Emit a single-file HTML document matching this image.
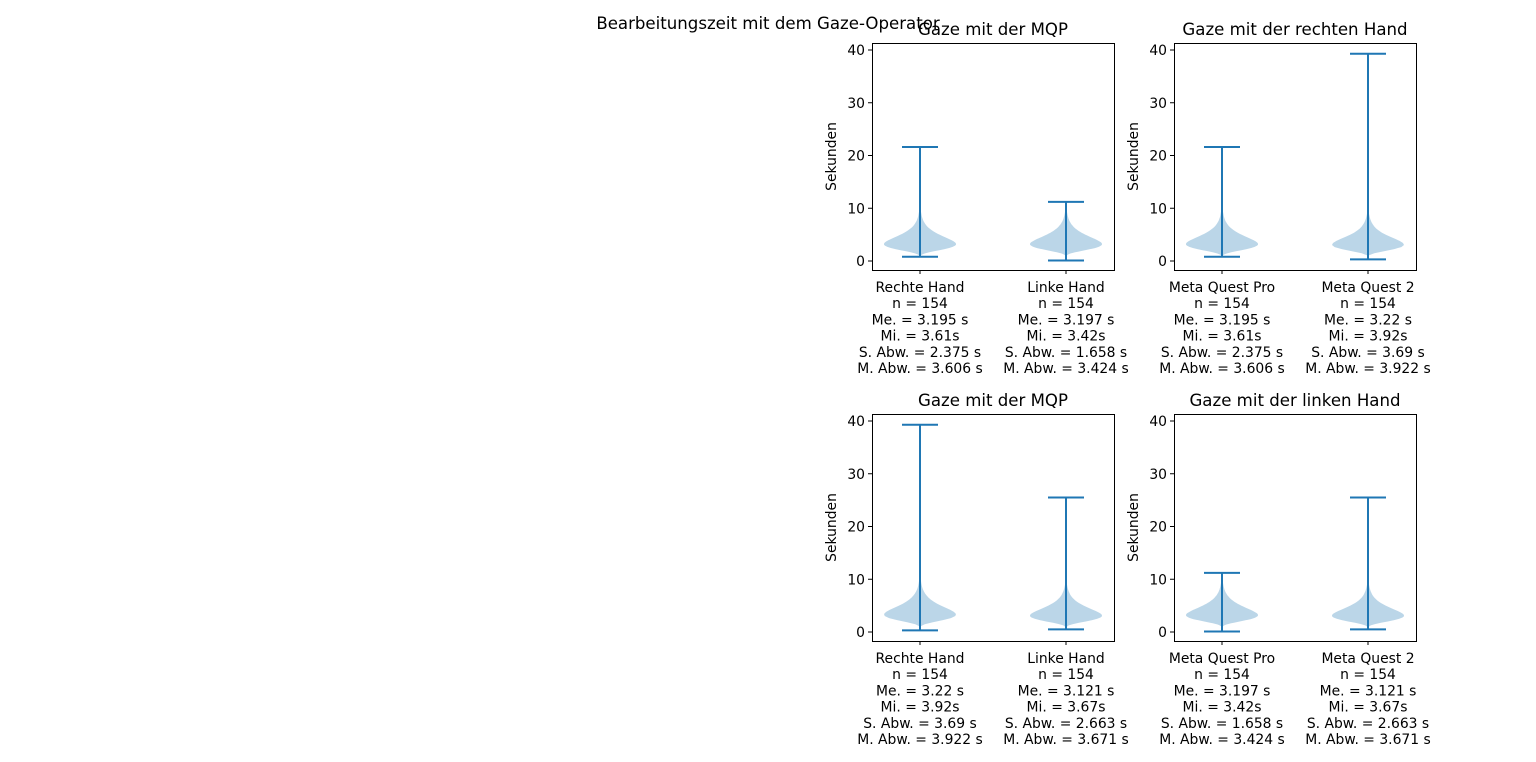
<!DOCTYPE html>
<html><head><meta charset="utf-8"><style>
body{margin:0;background:#fff;}
svg{display:block;font-family:"DejaVu Sans","Liberation Sans",sans-serif;}
</style></head><body>
<svg id="chart" width="1536" height="762">
<text x="768" y="29" text-anchor="middle" font-size="16.6">Bearbeitungszeit mit dem Gaze-Operator</text>
</svg>
<script>
const panelTitles=["Gaze mit der MQP","Gaze mit der rechten Hand","Gaze mit der MQP","Gaze mit der linken Hand"];
const categories=[["Rechte Hand","Linke Hand"],["Meta Quest Pro","Meta Quest 2"],["Rechte Hand","Linke Hand"],["Meta Quest Pro","Meta Quest 2"]];
const seriesMin=[[0.8,0.1],[0.8,0.3],[0.3,0.5],[0.1,0.5]];
const seriesMax=[[21.6,11.2],[21.6,39.3],[39.3,25.5],[11.2,25.5]];
const seriesMedian=[[3.195,3.197],[3.195,3.22],[3.22,3.121],[3.197,3.121]];
const seriesMode=[[3.2,3.2],[3.2,3.1],[3.3,3.1],[3.2,3.1]];
const statN=[[154,154],[154,154],[154,154],[154,154]];
const statMi=[["3.61","3.42"],["3.61","3.92"],["3.92","3.67"],["3.42","3.67"]];
const statSd=[["2.375","1.658"],["2.375","3.69"],["3.69","2.663"],["1.658","2.663"]];
const statMad=[["3.606","3.424"],["3.606","3.922"],["3.922","3.671"],["3.424","3.671"]];
const yTicks=[0,10,20,30,40];

const NS="http://www.w3.org/2000/svg";
const svg=document.getElementById('chart');
function mk(t,a,p){const e=document.createElementNS(NS,t);for(const k in a)e.setAttribute(k,a[k]);(p||svg).appendChild(e);return e;}
const boxes=[[872,43],[1174,43],[872,414],[1174,414]];
const W=242,H=227;
boxes.forEach((b,pi)=>{
  const [x0,y0]=b;
  const g=mk('g',{});
  
  
  const yS=v=>y0+218-v*(211/40);
  const xS=i=>x0+48+i*146;
  const t=mk('text',{x:x0+W/2,y:y0-8,'text-anchor':'middle','font-size':16.6},g);t.textContent=panelTitles[pi];
  
  yTicks.forEach(v=>{
    const y=yS(v);
    mk('line',{x1:x0-4,x2:x0,y1:y,y2:y,stroke:'#000','stroke-width':1},g);
    const tl=mk('text',{x:x0-7,y:y+5,'text-anchor':'end','font-size':13.9},g);tl.textContent=v;
    
  });
  const yl=mk('text',{transform:`translate(${x0-36},${y0+H/2}) rotate(-90)`,'text-anchor':'middle','font-size':13.9},g);yl.textContent='Sekunden';
  
  categories[pi].forEach((c,i)=>{
    const cx=xS(i),mn=seriesMin[pi][i],mx=seriesMax[pi][i],mode=seriesMode[pi][i];
    const N=100;const sig=0.4;const mu=Math.log(mode)+sig*sig;
    let dens=[];
    for(let k=0;k<=N;k++){const v=mn+(mx-mn)*k/N;const d=Math.exp(-Math.pow(Math.log(v)-mu,2)/(2*sig*sig))/v;dens.push([v,d]);}
    const dmax=Math.max(...dens.map(d=>d[1]));
    const L=dens.map(([v,d])=>[cx-36*d/dmax,yS(v)]),R=dens.map(([v,d])=>[cx+36*d/dmax,yS(v)]).reverse();
    const path='M'+L.concat(R).map(p=>p[0].toFixed(1)+','+p[1].toFixed(1)).join('L')+'Z';
    const body=mk('path',{d:path,fill:'#1f77b4','fill-opacity':0.3},g);
    
    const st=mk('line',{x1:cx,x2:cx,y1:yS(mn),y2:yS(mx),stroke:'#1f77b4','stroke-width':2},g);
    
    [mn,mx].forEach(v=>{const c2=mk('line',{x1:cx-18,x2:cx+18,y1:yS(v),y2:yS(v),stroke:'#1f77b4','stroke-width':2},g);
      });
    mk('line',{x1:cx,x2:cx,y1:y0+H,y2:y0+H+4,stroke:'#000'},g);
    const lines=[c,'n = '+statN[pi][i],'Me. = '+seriesMedian[pi][i]+' s','Mi. = '+statMi[pi][i]+'s','S. Abw. = '+statSd[pi][i]+' s','M. Abw. = '+statMad[pi][i]+' s'];
    lines.forEach((s,li)=>{const tx=mk('text',{x:cx,y:y0+H+22+li*16.2,'text-anchor':'middle','font-size':13.9},g);tx.textContent=s;
      });
  });
  const fr=mk('rect',{x:x0+0.5,y:y0+0.5,width:W,height:H,fill:'none',stroke:'#000','stroke-width':1},g);
  
});
</script>
</body></html>
